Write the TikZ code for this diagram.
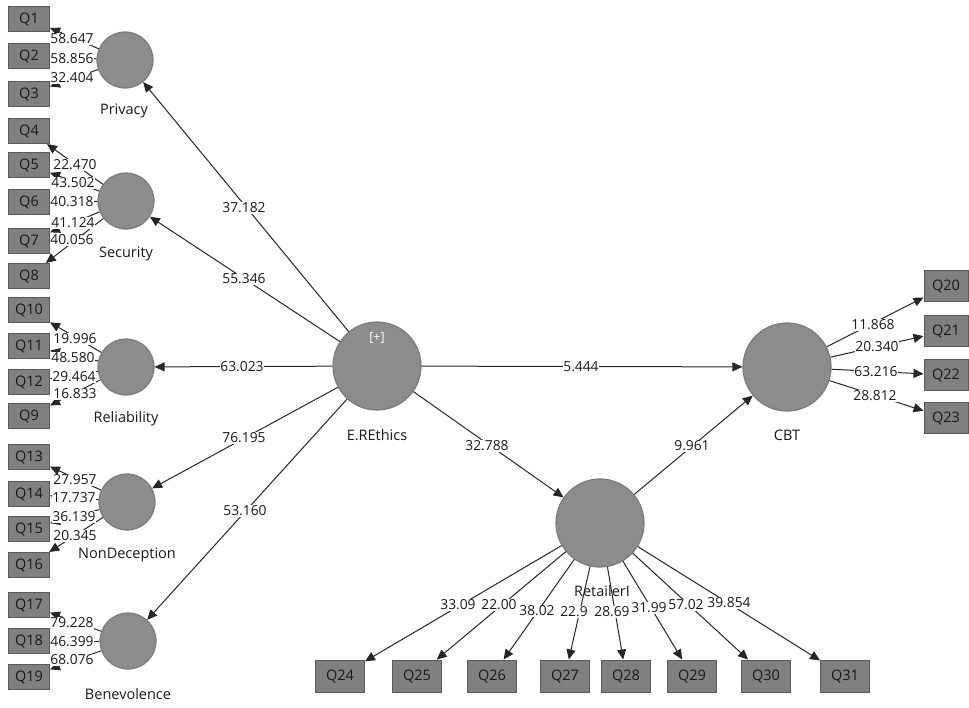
\documentclass[tikz,border=0pt]{standalone}
\usepackage{fontspec}
\setmainfont{Open Sans}
\usetikzlibrary{arrows.meta}

\definecolor{boxgray}{RGB}{128,128,128}
\definecolor{lvgray}{RGB}{140,140,140}
\definecolor{edgegray}{RGB}{90,90,90}

\begin{document}
\begin{tikzpicture}[x=1pt, y=-1pt,
        every node/.style={font=\fontsize{14.5}{16}\selectfont, text=black!90},
        lv/.style={circle, fill=lvgray, draw=edgegray!80, line width=1.2pt, minimum size=56pt, inner sep=0pt},
        bigLv/.style={lv, minimum size=88pt},
        ind/.style={rectangle, fill=boxgray, draw=edgegray, line width=1pt, minimum width=41pt, minimum height=25pt, inner sep=0pt},
        link/.style={line width=1pt, black!85, -{Triangle[length=10pt, width=9pt]}},
        val/.style={fill=white, inner sep=0.5pt, font=\fontsize{13.8}{15}\selectfont}]
    \useasboundingbox (0,0) rectangle (969,707);

    % Indicators left
    \foreach \q/\y in {1/19, 2/56, 3/94, 4/131, 5/165, 6/202, 7/241, 8/276,
                       10/310, 11/346, 12/382, 9/416, 13/457, 14/494, 15/529, 16/565,
                       17/605, 18/641, 19/677}
        \node[ind] (q\q) at (29,\y) {Q\q};

    % Indicators right
    \foreach \q/\y in {20/286, 21/331, 22/375, 23/418}
        \node[ind, minimum width=44pt, minimum height=31pt] (q\q) at (946,\y) {Q\q};

    % Indicators bottom
    \foreach \q/\x in {24/340, 25/417, 26/492, 27/565, 28/626, 29/692, 30/766, 31/845}
        \node[ind, minimum width=49pt, minimum height=32pt] (q\q) at (\x,676) {Q\q};

    % Constructs
    \node[lv] (privacy)      at (125,60)  {};
    \node[lv] (security)     at (126,201) {};
    \node[lv] (reliability)  at (126,367) {};
    \node[lv] (nondeception) at (127,502) {};
    \node[lv] (benevolence)  at (128,641) {};
    \node[bigLv] (ethics)    at (377,366) {};
    \node[bigLv] (cbt)       at (787,367) {};
    \node[bigLv] (retailer)  at (600,523) {};

    \node[text=white, font=\fontsize{12.5}{14}\selectfont] (plus) at (377,338) {[+]};

    % Construct names
    \node (privacyN)      at (124,111) {Privacy};
    \node (securityN)     at (126,254) {Security};
    \node (reliabilityN)  at (126,419) {Reliability};
    \node (nondeceptionN) at (127,555) {NonDeception};
    \node (benevolenceN)  at (128,694) {Benevolence};
    \node (ethicsN)       at (377,435) {E.REthics};
    \node (cbtN)          at (787,435) {CBT};

    % Outer model arrows
    \foreach \q in {1,2,3} \draw[link] (privacy) -- (q\q);
    \foreach \q in {4,5,6,7,8} \draw[link] (security) -- (q\q);
    \foreach \q in {10,11,12,9} \draw[link] (reliability) -- (q\q);
    \foreach \q in {13,14,15,16} \draw[link] (nondeception) -- (q\q);
    \foreach \q in {17,18,19} \draw[link] (benevolence) -- (q\q);
    \foreach \q in {20,21,22,23} \draw[link] (cbt) -- (q\q);
    \foreach \q in {24,25,26,27,28,29,30,31} \draw[link] (retailer) -- (q\q);

    % Inner model arrows
    \foreach \c in {privacy,security,reliability,nondeception,benevolence}
        \draw[link] (ethics) -- (\c);
    \draw[link] (ethics) -- (cbt);
    \draw[link] (ethics) -- (retailer);
    \draw[link] (retailer) -- (cbt);

    \node (retailerN) at (602,591) {RetailerI};

    % Values left
    \foreach \v/\x/\y in {58.647/72/39, 58.856/72/59, 32.404/72/78,
                          22.470/75/165, 43.502/73/183, 40.318/72/202, 41.124/73/223, 40.056/72/240,
                          19.996/75/339, 48.580/73/358, 29.464/74/377, 16.833/75/394,
                          27.957/75/480, 17.737/74/498, 36.139/74/517, 20.345/75/536,
                          79.228/72/623, 46.399/72/642, 68.076/72/660}
        \node[val] (v\v) at (\x,\y) {\v};

    % Values right
    \foreach \v/\x/\y in {11.868/873/325, 20.340/877/347, 63.216/876/372, 28.812/875/396}
        \node[val] (v\v) at (\x,\y) {\v};

    % Values bottom
    \foreach \v/\x/\y in {33.09/458/605, 22.00/499/605, 38.02/537/611, 22.9/574/612,
                          28.69/612/612, 31.99/649/608, 57.02/686/605, 39.854/729/603}
        \node[val] (b\v) at (\x,\y) {\v};

    % Path values
    \foreach \v/\x/\y in {37.182/244/208, 55.346/244/279, 63.023/242/367, 76.195/244/438,
                          53.160/245/511, 5.444/581/367, 32.788/487/446, 9.961/692/446}
        \node[val] (p\v) at (\x,\y) {\v};
\end{tikzpicture}
\end{document}
